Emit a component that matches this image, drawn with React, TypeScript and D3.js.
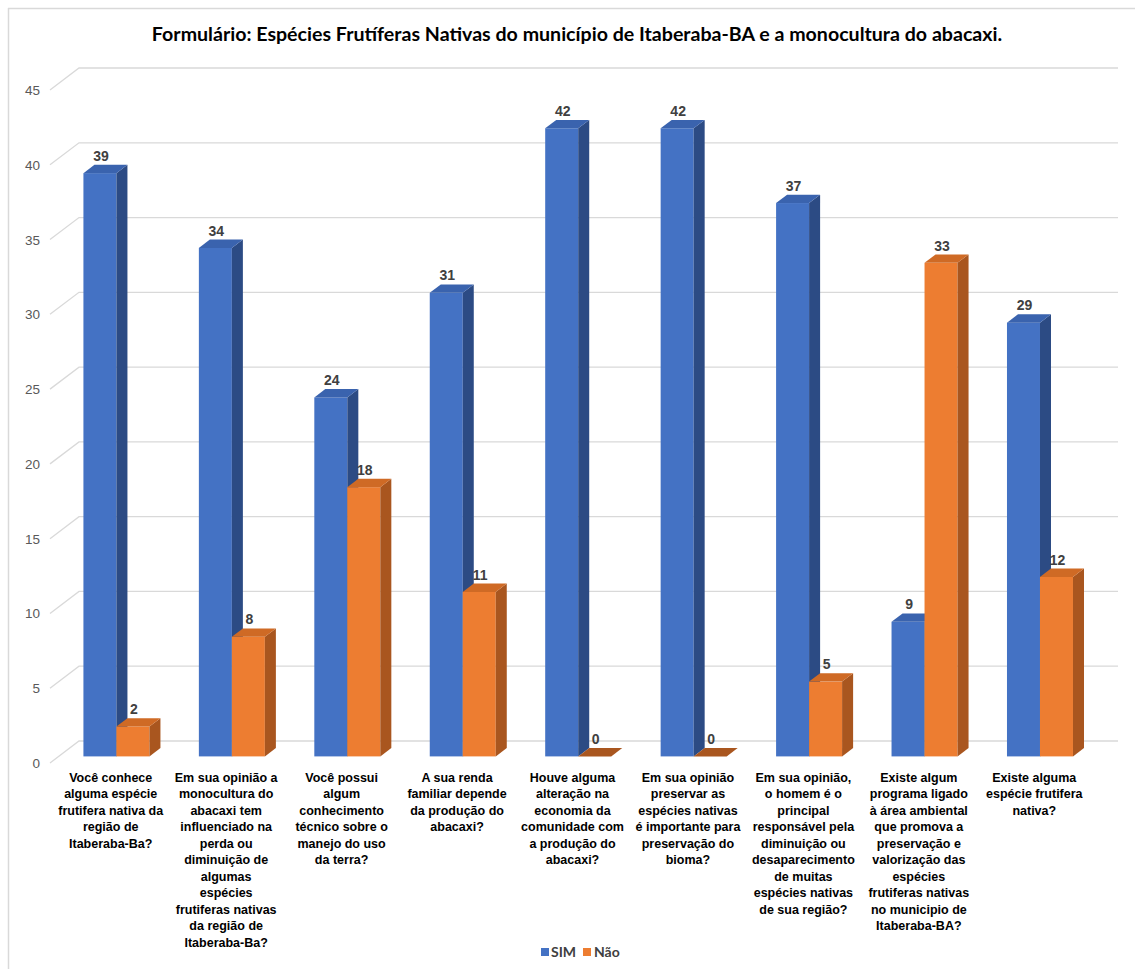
import React from "react";
import * as d3 from "d3";

const categories: string[][] = [
  ["Você conhece", "alguma espécie", "frutifera nativa da", "região de", "Itaberaba-Ba?"],
  ["Em sua opinião a", "monocultura do", "abacaxi tem", "influenciado na", "perda ou", "diminuição de", "algumas", "espécies", "frutiferas nativas", "da região de", "Itaberaba-Ba?"],
  ["Você possui", "algum", "conhecimento", "técnico sobre o", "manejo do uso", "da terra?"],
  ["A sua renda", "familiar depende", "da produção do", "abacaxi?"],
  ["Houve alguma", "alteração na", "economia da", "comunidade com", "a produção do", "abacaxi?"],
  ["Em sua opinião", "preservar as", "espécies nativas", "é importante para", "preservação do", "bioma?"],
  ["Em sua opinião,", "o homem é o", "principal", "responsável pela", "diminuição ou", "desaparecimento", "de muitas", "espécies nativas", "de sua região?"],
  ["Existe algum", "programa ligado", "à área ambiental", "que promova a", "preservação e", "valorização das", "espécies", "frutiferas nativas", "no municipio de", "Itaberaba-BA?"],
  ["Existe alguma", "espécie frutifera", "nativa?"],
];
const seriesNames = ["SIM", "Não"];
const simValues = [39, 34, 24, 31, 42, 42, 37, 9, 29];
const naoValues = [2, 8, 18, 11, 0, 0, 5, 33, 12];
const yTicks = [0, 5, 10, 15, 20, 25, 30, 35, 40, 45];
const title = "Formulário: Espécies Frutíferas Nativas do município de Itaberaba-BA e a monocultura do abacaxi.";

const colors = {
  SIM: { front: "#4472C4", side: "#2C4B84", top: "#3A63AE" },
  "Não": { front: "#ED7D31", side: "#A9561F", top: "#CF6A25" },
} as Record<string, { front: string; side: string; top: string }>;

export default function App() {
  const W = 1135, H = 969;
  const left = 50, right = 1089;
  const y = d3.scaleLinear().domain([0, 45]).range([763, 90]);
  const D = { x: 29, y: -22 };
  const fF = 0.3, fB = 0.68;
  const f = { x: D.x * fF, y: D.y * fF };
  const b = { x: D.x * fB, y: D.y * fB };
  const idx = categories.map((_, i) => String(i));
  const x0 = d3.scaleBand<string>().domain(idx).range([left, right]);
  const bw = 33;
  const pad = (x0.bandwidth() - 2 * bw) / 2;
  const x1 = d3.scaleBand<string>().domain(seriesNames).range([pad, pad + 2 * bw]);
  const values: Record<string, number[]> = { SIM: simValues, "Não": naoValues };

  const bars: React.ReactNode[] = [];
  idx.forEach((c, i) => {
    seriesNames.forEach((s) => {
      const v = values[s][i];
      const xl = (x0(c) as number) + (x1(s) as number);
      const xr = xl + bw;
      const yt = y(v), yb = y(0);
      const col = colors[s];
      const pts = (arr: number[][]) => arr.map((p) => p.join(",")).join(" ");
      bars.push(
        <g key={c + s}>
          {v > 0 && (
            <rect x={xl + f.x} y={yt + f.y} width={bw} height={yb - yt} fill={col.front} />
          )}
          {v > 0 && (
            <polygon
              points={pts([
                [xr + f.x, yt + f.y],
                [xr + b.x, yt + b.y],
                [xr + b.x, yb + b.y],
                [xr + f.x, yb + f.y],
              ])}
              fill={col.side}
            />
          )}
          <polygon
            points={pts([
              [xl + f.x, yt + f.y],
              [xl + b.x, yt + b.y],
              [xr + b.x, yt + b.y],
              [xr + f.x, yt + f.y],
            ])}
            fill={v > 0 ? col.top : col.side}
          />
          <text
            x={xl + f.x + bw / 2 + 1}
            y={yt + b.y - 4}
            textAnchor="middle"
            fontFamily="Liberation Sans, Arial, sans-serif"
            fontWeight="bold"
            fontSize={14}
            fill="#404040"
          >
            {v}
          </text>
        </g>
      );
    });
  });

  return (
    <svg
      width={W}
      height={H}
      style={{ position: "absolute", left: 0, top: 0, background: "#fff" }}
    >
      <rect x={0} y={0} width={W} height={H} fill="#fff" />
      <line x1={8.5} y1={8} x2={8.5} y2={H} stroke="#D9D9D9" strokeWidth={1.5} />
      <line x1={8} y1={8.5} x2={W} y2={8.5} stroke="#D9D9D9" strokeWidth={1.5} />
      <text
        x={577}
        y={41}
        textAnchor="middle"
        fontFamily="Lato, Open Sans, sans-serif"
        fontWeight="bold"
        fontSize={19.6}
        fill="#000"
      >
        {title}
      </text>
      {yTicks.map((t) => (
        <g key={t}>
          <polyline
            points={`${left},${y(t)} ${left + D.x},${y(t) + D.y} 1118,${y(t) + D.y}`}
            fill="none"
            stroke="#D9D9D9"
            strokeWidth={1.3}
          />
          <text
            x={40}
            y={y(t) + 5}
            textAnchor="end"
            fontFamily="Liberation Sans, Arial, sans-serif"
            fontSize={13.5}
            fill="#595959"
          >
            {t}
          </text>
        </g>
      ))}
      {bars}
      {categories.map((lines, i) => {
        const cx = (x0(String(i)) as number) + x0.bandwidth() / 2 + 3;
        return (
          <text
            key={i}
            textAnchor="middle"
            fontFamily="Liberation Sans, Arial, sans-serif"
            fontWeight="bold"
            fontSize={12.5}
            fill="#000"
          >
            {lines.map((l, k) => (
              <tspan key={k} x={cx} y={781.5 + k * 16.5}>
                {l}
              </tspan>
            ))}
          </text>
        );
      })}
      <g fontFamily="Lato, Open Sans, sans-serif" fontWeight="bold" fontSize={14} fill="#404040">
        <rect x={541} y={948} width={8} height={8} fill={colors.SIM.front} />
        <text x={551} y={957}>{seriesNames[0]}</text>
        <rect x={583} y={948} width={8} height={8} fill={colors["Não"].front} />
        <text x={594} y={957}>{seriesNames[1]}</text>
      </g>
    </svg>
  );
}
